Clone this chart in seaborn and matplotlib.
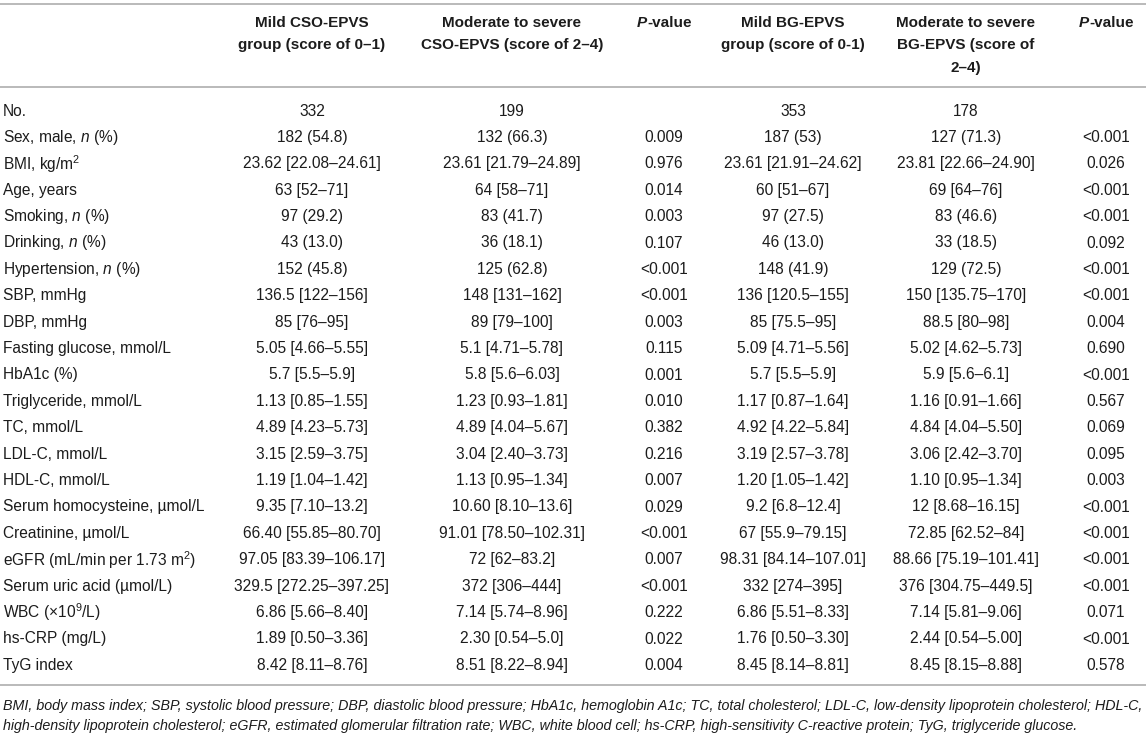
import matplotlib
matplotlib.use("Agg")
import matplotlib.pyplot as plt
import seaborn as sns

# ── Table content ──────────────────────────────────────────
headers = [
    ["Mild CSO-EPVS", "group (score of 0–1)"],
    ["Moderate to severe", "CSO-EPVS (score of 2–4)"],
    None,  # P-value
    ["Mild BG-EPVS", "group (score of 0-1)"],
    ["Moderate to severe", "BG-EPVS (score of", "2–4)"],
    None,  # P-value
]

labels = [
    "No.", "Sex, male, $n$ (%)", "BMI, kg/m$^2$", "Age, years",
    "Smoking, $n$ (%)", "Drinking, $n$ (%)", "Hypertension, $n$ (%)",
    "SBP, mmHg", "DBP, mmHg", "Fasting glucose, mmol/L", "HbA1c (%)",
    "Triglyceride, mmol/L", "TC, mmol/L", "LDL-C, mmol/L", "HDL-C, mmol/L",
    "Serum homocysteine, µmol/L", "Creatinine, µmol/L",
    "eGFR (mL/min per 1.73 m$^2$)", "Serum uric acid (µmol/L)",
    "WBC (×10$^9$/L)", "hs-CRP (mg/L)", "TyG index",
]

mild_cso = [
    "332", "182 (54.8)", "23.62 [22.08–24.61]", "63 [52–71]", "97 (29.2)",
    "43 (13.0)", "152 (45.8)", "136.5 [122–156]", "85 [76–95]",
    "5.05 [4.66–5.55]", "5.7 [5.5–5.9]", "1.13 [0.85–1.55]",
    "4.89 [4.23–5.73]", "3.15 [2.59–3.75]", "1.19 [1.04–1.42]",
    "9.35 [7.10–13.2]", "66.40 [55.85–80.70]", "97.05 [83.39–106.17]",
    "329.5 [272.25–397.25]", "6.86 [5.66–8.40]", "1.89 [0.50–3.36]",
    "8.42 [8.11–8.76]",
]
severe_cso = [
    "199", "132 (66.3)", "23.61 [21.79–24.89]", "64 [58–71]", "83 (41.7)",
    "36 (18.1)", "125 (62.8)", "148 [131–162]", "89 [79–100]",
    "5.1 [4.71–5.78]", "5.8 [5.6–6.03]", "1.23 [0.93–1.81]",
    "4.89 [4.04–5.67]", "3.04 [2.40–3.73]", "1.13 [0.95–1.34]",
    "10.60 [8.10–13.6]", "91.01 [78.50–102.31]", "72 [62–83.2]",
    "372 [306–444]", "7.14 [5.74–8.96]", "2.30 [0.54–5.0]",
    "8.51 [8.22–8.94]",
]
p_cso = [
    "", "0.009", "0.976", "0.014", "0.003", "0.107", "<0.001", "<0.001",
    "0.003", "0.115", "0.001", "0.010", "0.382", "0.216", "0.007", "0.029",
    "<0.001", "0.007", "<0.001", "0.222", "0.022", "0.004",
]
mild_bg = [
    "353", "187 (53)", "23.61 [21.91–24.62]", "60 [51–67]", "97 (27.5)",
    "46 (13.0)", "148 (41.9)", "136 [120.5–155]", "85 [75.5–95]",
    "5.09 [4.71–5.56]", "5.7 [5.5–5.9]", "1.17 [0.87–1.64]",
    "4.92 [4.22–5.84]", "3.19 [2.57–3.78]", "1.20 [1.05–1.42]",
    "9.2 [6.8–12.4]", "67 [55.9–79.15]", "98.31 [84.14–107.01]",
    "332 [274–395]", "6.86 [5.51–8.33]", "1.76 [0.50–3.30]",
    "8.45 [8.14–8.81]",
]
severe_bg = [
    "178", "127 (71.3)", "23.81 [22.66–24.90]", "69 [64–76]", "83 (46.6)",
    "33 (18.5)", "129 (72.5)", "150 [135.75–170]", "88.5 [80–98]",
    "5.02 [4.62–5.73]", "5.9 [5.6–6.1]", "1.16 [0.91–1.66]",
    "4.84 [4.04–5.50]", "3.06 [2.42–3.70]", "1.10 [0.95–1.34]",
    "12 [8.68–16.15]", "72.85 [62.52–84]", "88.66 [75.19–101.41]",
    "376 [304.75–449.5]", "7.14 [5.81–9.06]", "2.44 [0.54–5.00]",
    "8.45 [8.15–8.88]",
]
p_bg = [
    "", "<0.001", "0.026", "<0.001", "<0.001", "0.092", "<0.001", "<0.001",
    "0.004", "0.690", "<0.001", "0.567", "0.069", "0.095", "0.003", "<0.001",
    "<0.001", "<0.001", "<0.001", "0.071", "<0.001", "0.578",
]

footnote = [
    "BMI, body mass index; SBP, systolic blood pressure; DBP, diastolic blood "
    "pressure; HbA1c, hemoglobin A1c; TC, total cholesterol; LDL-C, low-density "
    "lipoprotein cholesterol; HDL-C,",
    "high-density lipoprotein cholesterol; eGFR, estimated glomerular filtration "
    "rate; WBC, white blood cell; hs-CRP, high-sensitivity C-reactive protein; "
    "TyG, triglyceride glucose.",
]

columns = [mild_cso, severe_cso, p_cso, mild_bg, severe_bg, p_bg]

# ── Layout (pixel units of the 1146x734 canvas) ───────────
col_x = [312, 512, 664, 793, 966, 1106]
label_x = 3
row0, row_step = 111, 26.4
head0, head_step = 23, 22.5
line_y = [3.5, 87, 685]
foot_y = [706, 726]

text_color = "#1c1c1c"
rule_color = "#b4b4b4"
fs_head = 11
fs_body = 11.2

# ── Style ─────────────────────────────────────────────────
sns.set_theme(style="white")
plt.rcParams["font.family"] = ["Liberation Sans", "DejaVu Sans"]
plt.rcParams["mathtext.fontset"] = "custom"
plt.rcParams["mathtext.rm"] = "Liberation Sans"
plt.rcParams["mathtext.it"] = "Liberation Sans:italic"
plt.rcParams["mathtext.bf"] = "Liberation Sans:bold"

fig = plt.figure(figsize=(11.46, 7.34), dpi=100)
ax = fig.add_axes([0, 0, 1, 1])
ax.set_xlim(0, 1146)
ax.set_ylim(734, 0)
ax.axis("off")

# ── Rules ─────────────────────────────────────────────────
for y in line_y:
    ax.plot([0, 1146], [y, y], color=rule_color, lw=1.3, solid_capstyle="butt")

# ── Header ────────────────────────────────────────────────
for x, lines in zip(col_x, headers):
    if lines is None:
        # bold italic P + bold "-value"
        ax.text(x - 17, head0, "P", ha="right", va="center", fontsize=fs_head,
                fontweight="bold", fontstyle="italic", color=text_color)
        ax.text(x - 17, head0, "-value", ha="left", va="center",
                fontsize=fs_head, fontweight="bold", color=text_color)
        continue
    for k, line in enumerate(lines):
        ax.text(x, head0 + k * head_step, line, ha="center", va="center",
                fontsize=fs_head, fontweight="bold", color=text_color)

# ── Body ──────────────────────────────────────────────────
for i, lab in enumerate(labels):
    y = row0 + i * row_step
    ax.text(label_x, y, lab, ha="left", va="center", fontsize=fs_body,
            color=text_color)
    for x, col in zip(col_x, columns):
        ax.text(x, y, col[i], ha="center", va="center", fontsize=fs_body,
                color=text_color)

# ── Footnote ──────────────────────────────────────────────
for y, line in zip(foot_y, footnote):
    ax.text(label_x, y, line, ha="left", va="center", fontsize=10.3,
            fontstyle="italic", color=text_color)

fig.savefig("out.png", dpi=100)
